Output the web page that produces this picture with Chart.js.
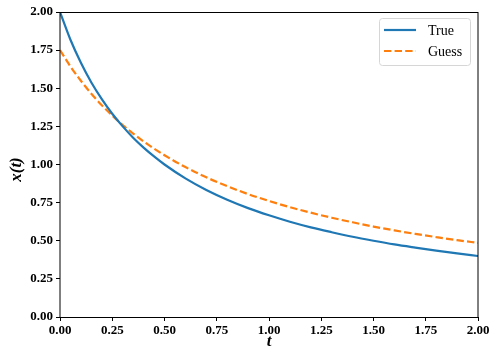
<!DOCTYPE html>
<html lang="en">
<head>
<meta charset="UTF-8">
<title>x(t): True vs Guess</title>
<script src="https://cdn.jsdelivr.net/npm/chart.js"></script>
<style>
  html, body { margin: 0; padding: 0; background: #fff; }
  #wrap { width: 498px; height: 361px; }
</style>
</head>
<body>
<div id="wrap"><canvas id="chart"></canvas></div>
<script>
// values
const tValues = [0, 0.05, 0.1, 0.15, 0.2, 0.25, 0.3, 0.35, 0.4, 0.45, 0.5,
                 0.6, 0.7, 0.8, 0.9, 1.0, 1.1, 1.2, 1.3, 1.4, 1.5, 1.6, 1.7, 1.8, 1.9, 2.0];
const trueValues = [2.000, 1.818, 1.667, 1.538, 1.429, 1.333, 1.250, 1.176, 1.111, 1.053, 1.000,
                    0.909, 0.833, 0.769, 0.714, 0.667, 0.625, 0.588, 0.556, 0.526, 0.500, 0.476, 0.455, 0.435, 0.417, 0.400];
const guessValues = [1.750, 1.643, 1.549, 1.464, 1.389, 1.321, 1.259, 1.203, 1.151, 1.104, 1.061,
                     0.983, 0.916, 0.858, 0.806, 0.761, 0.720, 0.684, 0.651, 0.621, 0.593, 0.568, 0.545, 0.524, 0.504, 0.486];
const tickValues = [0, 0.25, 0.5, 0.75, 1.0, 1.25, 1.5, 1.75, 2.0];

const seriesNames = ['True', 'Guess'];
const yTitle = 'x(t)';
const blue = '#1f77b4';
const orange = '#ff7f0e';
const serif = "'Liberation Serif', 'DejaVu Serif', serif";

function toPoints(ys) {
    return tValues.map((t, i) => ({ x: t, y: ys[i] }));
}

// spines, y title and legend box drawn like matplotlib
const framePlugin = {
    id: 'frame',
    afterDraw(chart) {
        const { ctx, chartArea: a } = chart;
        ctx.save();
        ctx.strokeStyle = '#000';
        ctx.lineWidth = 1;
        ctx.beginPath();
        ctx.moveTo(a.left, Math.round(a.top) + 0.5);
        ctx.lineTo(a.right, Math.round(a.top) + 0.5);
        ctx.moveTo(a.left, Math.round(a.bottom) + 0.5);
        ctx.lineTo(a.right, Math.round(a.bottom) + 0.5);
        ctx.moveTo(Math.round(a.left), a.top);
        ctx.lineTo(Math.round(a.left), a.bottom + 1);
        ctx.moveTo(Math.round(a.right), a.top);
        ctx.lineTo(Math.round(a.right), a.bottom + 1);
        ctx.stroke();

        // y axis title
        ctx.save();
        ctx.translate(17, (a.top + a.bottom) / 2 + 5);
        ctx.rotate(-Math.PI / 2);
        ctx.font = 'italic bold 17px ' + serif;
        ctx.fillStyle = '#000';
        ctx.textAlign = 'center';
        ctx.textBaseline = 'middle';
        ctx.fillText(yTitle, 0, 0);
        ctx.restore();

        // legend
        const bx = a.right - 99, by = a.top + 6, bw = 91, bh = 47;
        ctx.beginPath();
        ctx.roundRect(bx + 0.5, by + 0.5, bw, bh, 3);
        ctx.fillStyle = 'rgba(255,255,255,0.8)';
        ctx.fill();
        ctx.strokeStyle = '#d6d6d6';
        ctx.stroke();

        chart.data.datasets.forEach((ds, i) => {
            const y = by + 12 + i * 21;
            ctx.beginPath();
            ctx.setLineDash(ds.borderDash || []);
            ctx.strokeStyle = ds.borderColor;
            ctx.lineWidth = 2.2;
            ctx.moveTo(bx + 5, y);
            ctx.lineTo(bx + 37, y);
            ctx.stroke();
            ctx.setLineDash([]);
            ctx.fillStyle = '#000';
            ctx.font = '14px ' + serif;
            ctx.textBaseline = 'middle';
            ctx.fillText(ds.label, bx + 49, y + 1);
        });
        ctx.restore();
    }
};

new Chart(document.getElementById('chart'), {
    type: 'line',
    data: {
        datasets: [
            {
                label: seriesNames[0],
                data: toPoints(trueValues),
                borderColor: blue,
                borderWidth: 2.2,
                pointRadius: 0,
                cubicInterpolationMode: 'monotone'
            },
            {
                label: seriesNames[1],
                data: toPoints(guessValues),
                borderColor: orange,
                borderWidth: 2.2,
                borderDash: [7.4, 3.2],
                pointRadius: 0,
                cubicInterpolationMode: 'monotone'
            }
        ]
    },
    options: {
        responsive: true,
        maintainAspectRatio: false,
        animation: false,
        layout: { padding: { top: 12, right: 20, left: 0, bottom: 0 } },
        plugins: {
            legend: { display: false },
            tooltip: { enabled: false }
        },
        scales: {
            x: {
                type: 'linear',
                min: 0,
                max: 2,
                afterBuildTicks: s => { s.ticks = tickValues.map(v => ({ value: v })); },
                afterFit: s => { s.height = 44; },
                border: { display: false },
                grid: { drawOnChartArea: false, color: '#000', tickLength: 4 },
                ticks: {
                    color: '#000',
                    padding: 2,
                    maxRotation: 0,
                    font: { family: serif, size: 13, weight: 'bold' },
                    callback: v => v.toFixed(2)
                },
                title: {
                    display: true,
                    text: 't',
                    color: '#000',
                    padding: { top: 0, bottom: 9 },
                    font: { family: serif, size: 17, weight: 'bold', style: 'italic' }
                }
            },
            y: {
                min: 0,
                max: 2,
                afterBuildTicks: s => { s.ticks = tickValues.map(v => ({ value: v })); },
                afterFit: s => { s.width = 60; },
                border: { display: false },
                grid: { drawOnChartArea: false, color: '#000', tickLength: 4 },
                ticks: {
                    color: '#000',
                    padding: 3,
                    font: { family: serif, size: 13, weight: 'bold' },
                    callback: v => v.toFixed(2)
                },
                title: { display: false }
            }
        }
    },
    plugins: [framePlugin]
});
</script>
</body>
</html>
